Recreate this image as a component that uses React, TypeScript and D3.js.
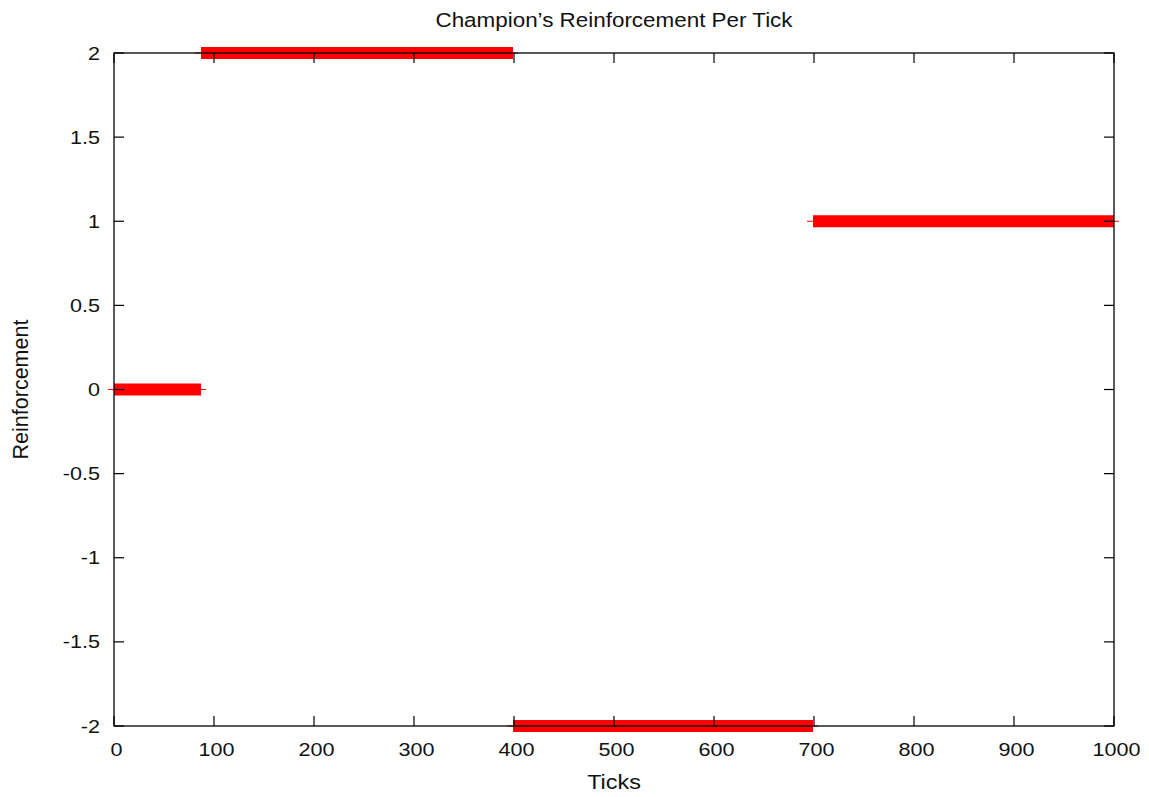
import React, { useRef, useEffect } from "react";
import * as d3 from "d3";

// step segments of the reinforcement signal
const segStart = [0, 87, 399, 699];
const segEnd = [87, 399, 699, 1000];
const segValue = [0, 2, -2, 1];

const xTicks = [0, 100, 200, 300, 400, 500, 600, 700, 800, 900, 1000];
const yTicks = [-2, -1.5, -1, -0.5, 0, 0.5, 1, 1.5, 2];

const App = () => {
  const ref = useRef<SVGSVGElement>(null);

  useEffect(() => {
    if (!ref.current) return;
    const W = 1149, H = 797;
    const margin = { top: 53, right: 35, bottom: 71, left: 114 };
    const width = W - margin.left - margin.right;
    const height = H - margin.top - margin.bottom;

    const root = d3.select(ref.current);
    root.selectAll("*").remove();
    const font = "'Liberation Sans', Arial, sans-serif";
    const sx = 1.2; // text in the original looks horizontally stretched

    const x = d3.scaleLinear().domain([0, 1000]).range([0, width]);
    const y = d3.scaleLinear().domain([-2, 2]).range([height, 0]);

    const svg = root.append("g").attr("transform", `translate(${margin.left},${margin.top})`);

    // data: thin line slightly longer than the thick bar
    const data = segValue.map((v, i) => ({ s: segStart[i], e: segEnd[i], v }));
    const segs = svg.append("g");
    segs.selectAll("line")
      .data(data)
      .enter()
      .append("line")
      .attr("x1", (d) => x(d.s) - 6)
      .attr("x2", (d) => x(d.e) + 5)
      .attr("y1", (d) => y(d.v))
      .attr("y2", (d) => y(d.v))
      .attr("stroke", "#ff0000")
      .attr("stroke-width", 1.2);
    segs.selectAll("rect")
      .data(data)
      .enter()
      .append("rect")
      .attr("x", (d) => x(d.s))
      .attr("width", (d) => x(d.e) - x(d.s))
      .attr("y", (d) => y(d.v) - 6)
      .attr("height", 12)
      .attr("fill", "#ff0000");

    // frame
    svg.append("rect")
      .attr("width", width)
      .attr("height", height)
      .attr("fill", "none")
      .attr("stroke", "#000")
      .attr("stroke-width", 1.3);

    const tl = 10;
    const ticksG = svg.append("g").attr("stroke", "#000").attr("stroke-width", 1.2);
    xTicks.forEach((t) => {
      ticksG.append("line").attr("x1", x(t)).attr("x2", x(t)).attr("y1", height).attr("y2", height - tl);
      ticksG.append("line").attr("x1", x(t)).attr("x2", x(t)).attr("y1", 0).attr("y2", tl);
    });
    yTicks.forEach((t) => {
      ticksG.append("line").attr("x1", 0).attr("x2", tl).attr("y1", y(t)).attr("y2", y(t));
      ticksG.append("line").attr("x1", width).attr("x2", width - tl).attr("y1", y(t)).attr("y2", y(t));
    });

    svg.append("g")
      .selectAll("text")
      .data(xTicks)
      .enter()
      .append("text")
      .attr("transform", (d) => `translate(${x(d) + 2.5},${height + 30}) scale(${sx},1)`)
      .attr("text-anchor", "middle")
      .attr("font-family", font)
      .attr("font-size", 18)
      .attr("fill", "#111")
      .text((d) => String(d));

    svg.append("g")
      .selectAll("text")
      .data(yTicks)
      .enter()
      .append("text")
      .attr("transform", (d) => `translate(-14,${y(d) + 6.5}) scale(${sx},1)`)
      .attr("text-anchor", "end")
      .attr("font-family", font)
      .attr("font-size", 18)
      .attr("fill", "#111")
      .text((d) => String(d));

    root.append("text")
      .attr("transform", `translate(614,27) scale(1.15,1)`)
      .attr("text-anchor", "middle")
      .attr("font-family", font)
      .attr("font-size", 19.5)
      .attr("fill", "#111")
      .text("Champion\u2019s Reinforcement Per Tick");

    root.append("text")
      .attr("transform", `translate(614,789) scale(1.2,1)`)
      .attr("text-anchor", "middle")
      .attr("font-family", font)
      .attr("font-size", 19.5)
      .attr("fill", "#111")
      .text("Ticks");

    root.append("text")
      .attr("transform", `translate(28,${margin.top + height / 2}) rotate(-90)`)
      .attr("text-anchor", "middle")
      .attr("font-family", font)
      .attr("font-size", 21.5)
      .attr("fill", "#111")
      .text("Reinforcement");
  }, []);

  return (
    <svg
      ref={ref}
      width={1149}
      height={797}
      style={{ position: "absolute", left: 0, top: 0, background: "#fff" }}
    />
  );
};

export default App;
